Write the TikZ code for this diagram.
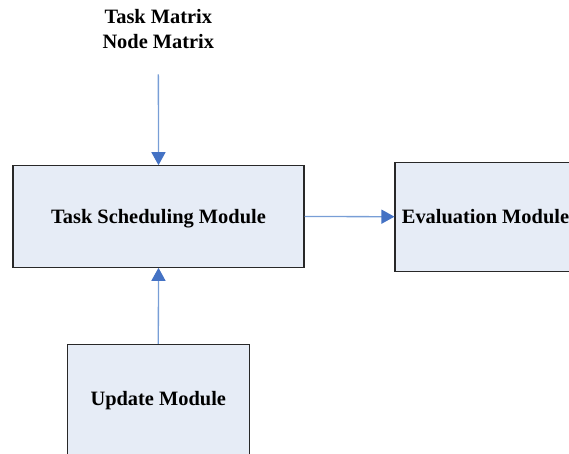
\documentclass[tikz,border=0pt]{standalone}
\usepackage{fontspec}
\setmainfont{Liberation Serif}
\usetikzlibrary{arrows.meta}
\definecolor{boxfill}{RGB}{230,236,246}
\definecolor{boxline}{RGB}{40,40,40}
\definecolor{linkblue}{RGB}{120,158,214}
\definecolor{headblue}{RGB}{68,114,196}
\tikzset{
  module/.style={draw=boxline, line width=1.1pt, fill=boxfill, inner sep=0pt,
    font=\fontsize{20.4}{25}\selectfont\bfseries},
  link/.style={draw=linkblue, line width=1.3pt,
    -{Triangle[length=13pt,width=14pt,color=headblue,fill=headblue]}},
}
\begin{document}
\begin{tikzpicture}[x=1pt,y=-1pt]
\useasboundingbox (0,0) rectangle (569,453);
\node[module, text depth=0pt, minimum width=291pt, minimum height=101.5pt] (tsm) at (158.5,216.5) {Task Scheduling Module};
\node[module, text depth=0pt, minimum width=200pt, minimum height=108.7pt] (eval) at (495,216.7) {\hspace*{-19pt}Evaluation Module};
\node[module, text depth=12.5pt, minimum width=182pt, minimum height=120pt] (upd) at (158.3,404.3) {Update Module};
\node[inner sep=0pt, anchor=north, align=center, font=\fontsize{20.4}{25}\selectfont\bfseries] (input) at (158.3,8.7) {Task Matrix\\Node Matrix};
\draw[link, shorten <=26pt] (input.south) -- (tsm.north);
\draw[link] (tsm.east) -- (eval.west);
\draw[link] (upd.north) -- (tsm.south);
\end{tikzpicture}
\end{document}
